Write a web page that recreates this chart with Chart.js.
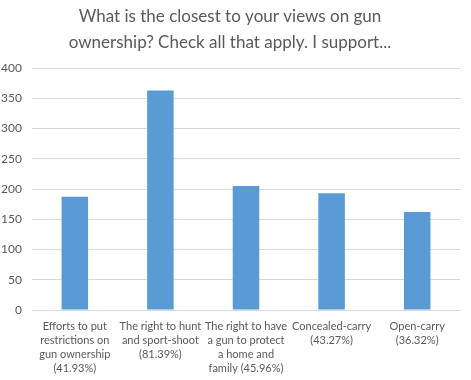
<!DOCTYPE html>
<html>
<head>
<meta charset="utf-8">
<script src="https://cdn.jsdelivr.net/npm/chart.js@4"></script>
<style>
html,body{margin:0;padding:0;background:#fff;}
#wrap{width:471px;height:380px;}
</style>
</head>
<body>
<div id="wrap"><canvas id="c" width="471" height="380"></canvas></div>
<script>
const categories = [
  ["Efforts to put", "restrictions on", "gun ownership", "(41.93%)"],
  ["The right to hunt", "and sport-shoot", "(81.39%)"],
  ["The right to have", "a gun to protect", "a home and", "family (45.96%)"],
  ["Concealed-carry", "(43.27%)"],
  ["Open-carry", "(36.32%)"]
];
const values = [187, 363, 205, 193, 162];
const yTicks = [0, 50, 100, 150, 200, 250, 300, 350, 400];
const titleLines = ["What is the closest to your views on gun", "ownership? Check all that apply. I support..."];

const FONT = "Lato, 'Open Sans', sans-serif";
const TXT = "#595959";

new Chart(document.getElementById('c'), {
  type: 'bar',
  data: {
    labels: categories,
    datasets: [{
      data: values,
      backgroundColor: '#5b9bd5',
      borderWidth: 0,
      barPercentage: 0.31,
      categoryPercentage: 1.0
    }]
  },
  options: {
    responsive: false,
    animation: false,
    devicePixelRatio: 1,
    layout: { padding: { top: 0, right: 11, bottom: 0, left: 0 } },
    plugins: {
      legend: { display: false },
      tooltip: { enabled: false },
      title: {
        display: true,
        text: titleLines,
        color: TXT,
        font: { family: FONT, size: 17, weight: 'normal', lineHeight: 1.53 },
        padding: { top: 4, bottom: 12 }
      }
    },
    scales: {
      x: {
        grid: { display: false, drawTicks: false },
        border: { display: true, color: '#d9d9d9', width: 1 },
        ticks: {
          color: TXT,
          font: { family: FONT, size: 11, lineHeight: 1.29 },
          maxRotation: 0, minRotation: 0, autoSkip: false,
          padding: 9
        },
        afterFit: (s) => { s.height = 70; }
      },
      y: {
        min: 0, max: 400,
        afterBuildTicks: (s) => { s.ticks = yTicks.map(v => ({ value: v })); },
        grid: { color: '#d9d9d9', drawTicks: false, lineWidth: 1 },
        border: { display: false },
        ticks: {
          color: TXT,
          font: { family: FONT, size: 12 },
          padding: 10
        },
        afterFit: (s) => { s.width = 32; }
      }
    }
  }
});
</script>
</body>
</html>
